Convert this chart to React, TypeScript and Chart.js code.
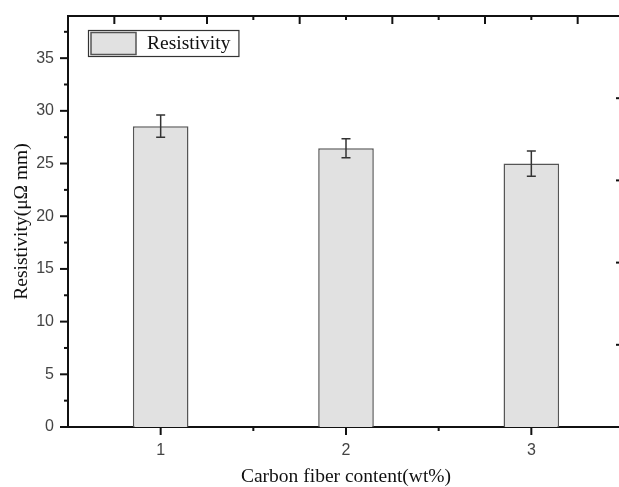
import React, { useEffect, useRef } from 'react';
import { Chart, registerables } from 'chart.js';

Chart.register(...registerables);

const categories = ['1', '2', '3'];
const resistivity = [28.55, 26.45, 25.0];
const resistivityError = [1.05, 0.9, 1.2];
const seriesLabel = 'Resistivity';
const xTitle = 'Carbon fiber content(wt%)';
const yTitle = 'Resistivity(μΩ mm)';
const yMin = 0;
const yMax = 39;
const yStep = 5;

const SERIF = '"Liberation Serif", "Times New Roman", serif';
const SANS = '"Liberation Sans", Arial, sans-serif';

const CANVAS_W = 660;
const CANVAS_H = 487;

const zeroPadding = (scale: any) => {
  scale.paddingTop = 0;
  scale.paddingBottom = 0;
  scale.paddingLeft = 0;
  scale.paddingRight = 0;
};

const axisTicksPlugin = {
  id: 'axisTicks',
  afterDraw(chart: any) {
    const ctx = chart.ctx;
    const area = chart.chartArea;
    const specs = [
      { id: 'x', side: 'bottom' },
      { id: 'y', side: 'left' },
      { id: 'x2', side: 'top' },
      { id: 'y2', side: 'right' },
    ];
    ctx.save();
    ctx.strokeStyle = '#111';
    ctx.lineWidth = 2;
    for (const s of specs) {
      const scale = chart.scales[s.id];
      if (!scale) continue;
      const vals: number[] = scale.ticks.map((t: any) => t.value);
      const minors: number[] = [];
      for (let i = 0; i < vals.length - 1; i++) minors.push((vals[i] + vals[i + 1]) / 2);
      if (vals.length > 1) {
        const half = (vals[1] - vals[0]) / 2;
        const after = vals[vals.length - 1] + half;
        if (after <= scale.max) minors.push(after);
        const before = vals[0] - half;
        if (before >= scale.min) minors.push(before);
      }
      const draw = (v: number, len: number) => {
        const p = scale.getPixelForValue(v);
        ctx.beginPath();
        if (s.side === 'bottom') {
          ctx.moveTo(p, area.bottom);
          ctx.lineTo(p, area.bottom + len);
        } else if (s.side === 'left') {
          ctx.moveTo(area.left - len, p);
          ctx.lineTo(area.left, p);
        } else if (s.side === 'top') {
          ctx.moveTo(p, area.top);
          ctx.lineTo(p, area.top + len);
        } else {
          ctx.moveTo(area.right - len, p);
          ctx.lineTo(area.right, p);
        }
        ctx.stroke();
      };
      vals.forEach((v) => draw(v, 8));
      minors.forEach((v) => draw(v, 4));
    }
    ctx.restore();
  },
};

const errorBarPlugin = {
  id: 'errorBars',
  afterDatasetsDraw(chart: any) {
    const ctx = chart.ctx;
    const yScale = chart.scales.y;
    chart.data.datasets.forEach((ds: any, di: number) => {
      const meta = chart.getDatasetMeta(di);
      const errs: number[] = ds.errors || [];
      meta.data.forEach((bar: any, i: number) => {
        const v = ds.data[i];
        const e = errs[i];
        if (e == null) return;
        const x = bar.x;
        const yTop = yScale.getPixelForValue(v + e);
        const yBot = yScale.getPixelForValue(v - e);
        const cap = 4.5;
        ctx.save();
        ctx.strokeStyle = '#333';
        ctx.lineWidth = 1.5;
        ctx.beginPath();
        ctx.moveTo(x, yTop);
        ctx.lineTo(x, yBot);
        ctx.moveTo(x - cap, yTop);
        ctx.lineTo(x + cap, yTop);
        ctx.moveTo(x - cap, yBot);
        ctx.lineTo(x + cap, yBot);
        ctx.stroke();
        ctx.restore();
      });
    });
  },
};

const legendBoxPlugin = {
  id: 'legendBox',
  afterDraw(chart: any) {
    const ctx = chart.ctx;
    const area = chart.chartArea;
    const ds = chart.data.datasets[0];
    const left = area.left + 20;
    const top = area.top + 14;
    const swW = 45;
    const h = 26;
    ctx.save();
    ctx.font = `19.5px ${SERIF}`;
    const tw = ctx.measureText(ds.label).width;
    const w = 3 + swW + 11 + tw + 8;
    ctx.fillStyle = '#fff';
    ctx.fillRect(left, top, w, h);
    ctx.strokeStyle = '#333';
    ctx.lineWidth = 1.2;
    ctx.strokeRect(left + 0.5, top + 0.5, w, h);
    ctx.fillStyle = ds.backgroundColor;
    ctx.fillRect(left + 3, top + 2.5, swW, h - 4);
    ctx.strokeStyle = ds.borderColor;
    ctx.lineWidth = 1.5;
    ctx.strokeRect(left + 3, top + 2.5, swW, h - 4);
    ctx.fillStyle = '#111';
    ctx.textBaseline = 'middle';
    ctx.fillText(ds.label, left + 3 + swW + 11, top + h / 2 + 1);
    ctx.restore();
  },
};

export default function App() {
  const ref = useRef<HTMLCanvasElement | null>(null);

  useEffect(() => {
    if (!ref.current) return;
    const chart = new Chart(ref.current, {
      type: 'bar',
      data: {
        labels: categories,
        datasets: [
          {
            label: seriesLabel,
            data: resistivity,
            errors: resistivityError,
            backgroundColor: '#e1e1e1',
            borderColor: '#555',
            borderWidth: 1.5,
            barPercentage: 0.3,
            categoryPercentage: 1,
            xAxisID: 'x',
            yAxisID: 'y',
          } as any,
        ],
      },
      options: {
        responsive: false,
        animation: false,
        devicePixelRatio: 1,
        layout: { padding: 0 },
        plugins: {
          legend: { display: false },
          tooltip: { enabled: false },
        },
        scales: {
          x: {
            type: 'category',
            position: 'bottom',
            offset: true,
            grid: { display: false, drawTicks: false, offset: true },
            border: { display: true, color: '#111', width: 2 },
            ticks: {
              color: '#444',
              font: { family: SANS, size: 16 },
              padding: 14,
              maxRotation: 0,
            },
            title: {
              display: true,
              text: xTitle,
              color: '#111',
              font: { family: SERIF, size: 19.5, lineHeight: 1 },
              padding: 0,
            },
            afterFit: (scale: any) => {
              scale.height = 60;
              zeroPadding(scale);
            },
          },
          x2: {
            type: 'linear',
            position: 'top',
            min: 0,
            max: 5,
            grid: { display: false, drawTicks: false },
            border: { display: true, color: '#111', width: 2 },
            ticks: { display: false, stepSize: 1 },
            afterFit: (scale: any) => {
              scale.height = 16;
              zeroPadding(scale);
            },
          },
          y: {
            type: 'linear',
            position: 'left',
            min: yMin,
            max: yMax,
            grid: { display: false, drawTicks: false },
            border: { display: true, color: '#111', width: 2 },
            ticks: {
              stepSize: yStep,
              includeBounds: false,
              color: '#444',
              font: { family: SANS, size: 16 },
              padding: 14,
            },
            title: {
              display: true,
              text: yTitle,
              color: '#111',
              font: { family: SERIF, size: 19.5, lineHeight: 1.2 },
              padding: { top: 10, bottom: 0 },
            },
            afterFit: (scale: any) => {
              scale.width = 68;
              zeroPadding(scale);
            },
          },
          y2: {
            type: 'linear',
            position: 'right',
            min: 0,
            max: 5,
            grid: { display: false, drawTicks: false },
            border: { display: true, color: '#111', width: 2 },
            ticks: { display: false, stepSize: 1 },
            afterFit: (scale: any) => {
              scale.width = CANVAS_W - 624;
              zeroPadding(scale);
            },
          },
        },
      } as any,
      plugins: [errorBarPlugin, axisTicksPlugin, legendBoxPlugin],
    });
    return () => chart.destroy();
  }, []);

  return (
    <div
      style={{
        position: 'absolute',
        left: 0,
        top: 0,
        width: 619,
        height: 487,
        overflow: 'hidden',
        background: '#fff',
      }}
    >
      <canvas ref={ref} width={CANVAS_W} height={CANVAS_H} style={{ display: 'block' }} />
    </div>
  );
}
